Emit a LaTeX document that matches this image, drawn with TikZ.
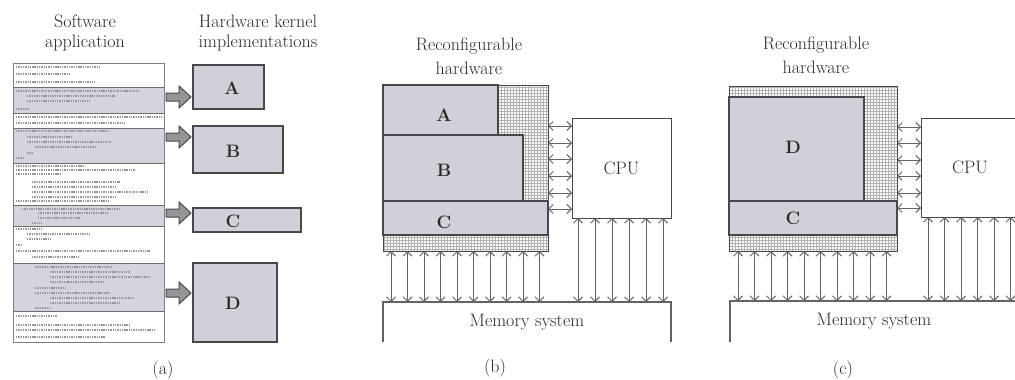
\documentclass[tikz,border=0pt]{standalone}
\usepackage{tikz}
\usetikzlibrary{arrows.meta,positioning,calc}
\definecolor{kernelfill}{RGB}{207,208,216}
\definecolor{codefill}{RGB}{212,213,220}
\definecolor{boxedge}{RGB}{72,72,76}
\definecolor{gridgray}{RGB}{178,178,182}
\definecolor{busgray}{RGB}{100,100,104}
\definecolor{arrowfill}{RGB}{150,150,154}
\definecolor{codegray}{RGB}{150,150,160}
\definecolor{darktext}{RGB}{40,40,40}

\begin{document}
\begin{tikzpicture}[x=1pt,y=-1pt,
  font=\fontsize{18}{22}\selectfont,text=darktext,
  >={Straight Barb[length=4.5pt,width=9pt]},
  box/.style={anchor=north west,inner sep=0pt,outer sep=0pt},
  kernel/.style={box,draw=boxedge,fill=kernelfill,line width=1.2pt},
  kname/.style={font=\fontsize{18}{22}\selectfont\bfseries},
  cpubox/.style={box,draw=boxedge,fill=white,line width=1pt},
  fabricgrid/.style={draw=gridgray,line width=0.35pt,step=3pt},
  fabricedge/.style={draw=boxedge,line width=1pt},
  memedge/.style={draw=busgray,line width=1.2pt},
  bus/.style={<->,draw=busgray,line width=1pt},
  blockarrow/.style={draw=boxedge,fill=arrowfill,line width=1pt,line join=miter},
  codeline/.style={draw=codegray,line width=1.3pt,dash pattern=on 1.4pt off 0.9pt},
  codeedge/.style={draw=boxedge!80,line width=0.9pt},
  head/.style={align=center,font=\fontsize{18}{24}\selectfont}]
\clip (0,0) rectangle (1015,380);

% (a)
\node[head,font=\fontsize{18}{20}\selectfont] (swhead) at (85,33) {Software\\application};
\node[head,font=\fontsize{18}{20}\selectfont] (hwhead) at (258,33) {Hardware kernel\\implementations};
\node[box,fill=white,minimum width=151pt,minimum height=279pt] (listing) at (13,63) {};
\node[box,fill=codefill,minimum width=151pt,minimum height=26pt] (s1) at (13,87) {};
\node[box,fill=codefill,minimum width=151pt,minimum height=35pt] (s2) at (13,128) {};
\node[box,fill=codefill,minimum width=151pt,minimum height=21pt] (s3) at (13,205) {};
\node[box,fill=codefill,minimum width=151pt,minimum height=48pt] (s4) at (13,263) {};
\foreach \s in {s1,s2,s3,s4}
  \draw[codeedge] (\s.north west) -- (\s.north east) (\s.south west) -- (\s.south east);
\foreach \xa/\xb/\y in {16/100/67,16/70/74,16/95/82,
    16/140/91,27/115/96,27/90/101,16/28/109,
    16/163/117,16/125/123,
    16/110/131,27/72/137,27/110/142,35/95/147,27/32/153,16/24/158,
    16/85/166,16/135/170,16/60/174,32/120/182,32/115/187,32/148/192,32/115/197,16/110/201,
    22/120/209,38/108/213,38/80/218,32/42/223,
    16/42/229,27/90/234,27/52/239,16/22/245,16/150/251,32/80/257,
    35/112/267,50/130/272,50/150/277,50/105/282,35/65/288,35/110/293,50/135/298,50/120/303,35/50/308,
    16/57/316,16/130/325,16/155/330,16/105/337}
  \draw[codeline] (\xa,\y) -- (\xb,\y);
\draw[codeedge,draw=boxedge!70] (listing.north west) rectangle (listing.south east);
\node[kernel,minimum width=71pt,minimum height=44pt] (ka) at (193,65) {};
\node[kernel,minimum width=90pt,minimum height=47pt] (kb) at (193,126) {};
\node[kernel,minimum width=108pt,minimum height=24pt] (kc) at (193,208) {};
\node[kernel,minimum width=84pt,minimum height=79pt] (kd) at (193,263) {};
\node[kname] (la) at (232,88) {A};
\node[kname] (lb) at (233,151) {B};
\node[kname] (lc) at (233,221) {C};
\node[kname] (ld) at (233,303) {D};
\foreach \s/\t/\y in {s1/ka/97,s2/kb/137,s3/kc/213,s4/kd/293}{
  \path (\s.east |- 0,\y) coordinate (p) (\t.west |- 0,\y) coordinate (q);
  \draw[blockarrow] ($(p)+(2,-4)$) -- ($(q)+(-14,-4)$) -- ($(q)+(-14,-11)$) -- ($(q)+(-2,0)$)
    -- ($(q)+(-14,11)$) -- ($(q)+(-14,4)$) -- ($(p)+(2,4)$) -- cycle;
}
\node (capa) at (163,370) {(a)};

% (b)
\node[head] (rhb) at (469,56) {Reconfigurable\\hardware};
\node[box,fill=white,minimum width=165pt,minimum height=166pt] (hwb) at (383,85) {};
\draw[fabricgrid] (hwb.north west) grid (hwb.south east);
\draw[fabricedge] (hwb.north west) rectangle (hwb.south east);
\node[kernel,minimum width=115pt,minimum height=50pt] (kba) at (383,85) {};
\node[kernel,minimum width=140pt,minimum height=66pt] (kbb) at (383,135) {};
\node[kernel,minimum width=165pt,minimum height=34pt] (kbc) at (383,201) {};
\node[kname] (lba) at (444,115) {A};
\node[kname] (lbb) at (444,170) {B};
\node[kname] (lbc) at (444,222) {C};
\node[cpubox,minimum width=99pt,minimum height=100pt] (cpub) at (572,118) {CPU};
\node[box,minimum width=288pt,minimum height=40pt] (memb) at (383,302) {Memory system};
\draw[memedge] (memb.south west) -- (memb.north west) -- (memb.north east) -- (memb.south east);
\foreach \y in {126,143,159,176,193,209}
  \draw[bus] (hwb.east |- 0,\y) -- (cpub.west |- 0,\y);
\foreach \i [evaluate=\i as \x using 391+16.5*\i] in {0,...,9}
  \draw[bus] (hwb.south -| \x,0) -- (memb.north -| \x,0);
\foreach \i [evaluate=\i as \x using 578+17*\i] in {0,...,5}
  \draw[bus] (cpub.south -| \x,0) -- (memb.north -| \x,0);
\node (capb) at (495,368) {(b)};

% (c)
\node[head] (rhc) at (816,55) {Reconfigurable\\hardware};
\node[box,fill=white,minimum width=168pt,minimum height=165pt] (hwc) at (729,86) {};
\draw[fabricgrid] (hwc.north west) grid (hwc.south east);
\draw[fabricedge] (hwc.north west) rectangle (hwc.south east);
\node[kernel,minimum width=135pt,minimum height=104pt] (kcd) at (729,97) {};
\node[kernel,minimum width=168pt,minimum height=34pt] (kcc) at (729,201) {};
\node[kname] (lcd) at (793,147) {D};
\node[kname] (lcc) at (793,218) {C};
\node[cpubox,minimum width=98pt,minimum height=99pt] (cpuc) at (921,118) {CPU};
\node[box,minimum width=288pt,minimum height=41pt] (memc) at (730,301) {Memory system};
\draw[memedge] (memc.south west) -- (memc.north west) -- (memc.north east) -- (memc.south east);
\foreach \y in {127,143,160,176,193,208}
  \draw[bus] (hwc.east |- 0,\y) -- (cpuc.west |- 0,\y);
\foreach \i [evaluate=\i as \x using 738+16.5*\i] in {0,...,9}
  \draw[bus] (hwc.south -| \x,0) -- (memc.north -| \x,0);
\foreach \i [evaluate=\i as \x using 928+16.5*\i] in {0,...,5}
  \draw[bus] (cpuc.south -| \x,0) -- (memc.north -| \x,0);
\node (capc) at (843,370) {(c)};
\end{tikzpicture}
\end{document}
